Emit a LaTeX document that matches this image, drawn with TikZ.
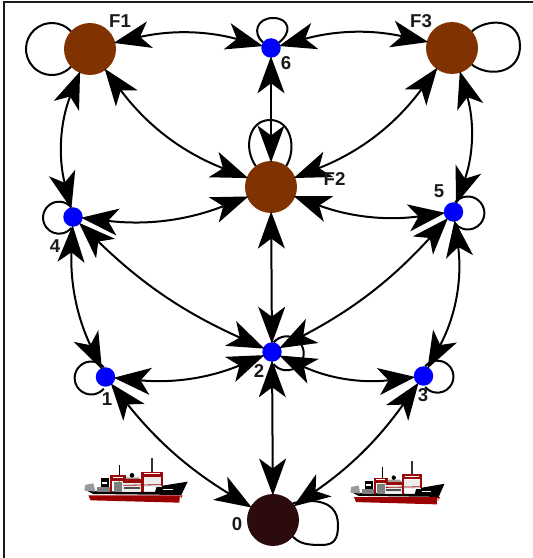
\documentclass[tikz,border=0pt]{standalone}
\usepackage{fontspec}
\setmainfont{Liberation Sans}
\usetikzlibrary{arrows.meta}
\definecolor{portbrown}{HTML}{803300}
\definecolor{depotdark}{HTML}{2B0B0B}
\definecolor{hullred}{HTML}{9A0000}
\definecolor{craneRed}{HTML}{9A0A0A}
\definecolor{labelink}{HTML}{1A1A1A}
\tikzset{
  bigport/.style={circle,fill=portbrown,minimum size=1.04cm,inner sep=0pt,outer sep=0pt,draw=none},
  depot/.style={circle,fill=depotdark,minimum size=1.04cm,inner sep=0pt,outer sep=0pt,draw=none},
  hub/.style={circle,fill=blue,minimum size=0.39cm,inner sep=0pt,outer sep=0pt,draw=none},
  lab/.style={text=labelink,font=\fontsize{10.6}{12}\selectfont\bfseries,inner sep=0pt},
  route/.style={line width=0.04cm,black,shorten >=-0.03cm,shorten <=-0.03cm,
    {Stealth[length=0.74cm,width=0.54cm,inset=0.2cm]}-{Stealth[length=0.74cm,width=0.54cm,inset=0.2cm]}},
  selfloop/.style={line width=0.04cm,black},
  frameline/.style={line width=0.04cm,labelink}
}
% Small cargo vessel, drawn in a local grid of 1/3 unit steps
\newcommand{\vessel}{%
  \fill[hullred] (85,166) -- (92,181) -- (358,188) -- (368,166) -- cycle;
  \fill[black] (72,148) -- (105,153) -- (285,156) -- (290,140) -- (345,131) -- (383,125)
     -- (364,165) -- (100,162) -- cycle;
  \fill[gray!80] (75,135) -- (100,130) -- (106,155) -- (75,152) -- cycle;
  \fill[gray] (110,140) rectangle (152,156);
  \fill[black] (122,115) rectangle (146,142);
  \fill[white] (126,125) rectangle (142,133);
  \fill[gray] (162,125) rectangle (186,156);
  \fill[gray!15] (186,122) rectangle (246,156);
  \fill[gray!75] (200,112) -- (235,112) -- (250,125) -- (186,125) -- cycle;
  \fill[black] (216,106) circle (7);
  \fill[gray!15] (250,112) rectangle (305,140);
  \fill[black!70] (192,142) rectangle (240,146);
  \fill[green!70!black] (178,127) circle (3);
  \draw[line width=0.025cm,black] (178,75) -- (178,106);
  \draw[line width=0.045cm,black!80] (276,55) -- (276,97);
  \fill[craneRed] (151,106) rectangle (198,122);
  \fill[craneRed] (244,95) rectangle (310,110);
  \fill[craneRed] (150,106) rectangle (157,156);
  \fill[craneRed] (243,95) rectangle (251,156);
  \fill[craneRed] (302,95) rectangle (310,138);
  \fill[craneRed] (190,118) rectangle (250,129);
  \draw[craneRed,line width=0.016cm] (190,136) -- (305,134);
  \fill[white] (158,111) rectangle (188,114);
  \fill[white] (252,100) rectangle (300,103);
  \fill[white] (310,147) rectangle (338,150);
  \fill[white] (360,170) -- (364,170) -- (362,186) -- (358,186) -- cycle;
}
\begin{document}
\begin{tikzpicture}[x=0.02cm,y=0.02cm]
  \useasboundingbox (0,0) rectangle (533,558);

  % Open frame along the left and top edges
  \coordinate (frameA) at (4,0);
  \coordinate (frameB) at (4,556);
  \coordinate (frameC) at (533,556);
  \draw[frameline] (frameA) -- (frameB) -- (frameC);

  % Vertices
  \node[bigport] (f1) at (90,509) {};
  \node[bigport] (f2) at (271,371) {};
  \node[bigport] (f3) at (452,510) {};
  \node[hub] (n6) at (271,510) {};
  \node[hub] (n4) at (73,341) {};
  \node[hub] (n5) at (453.5,346) {};
  \node[hub] (n2) at (272,206) {};
  \node[hub] (n1) at (105.5,181) {};
  \node[hub] (n3) at (423.5,182) {};
  \node[depot] (n0) at (273,38) {};

  % Self-loops
  \draw[selfloop] (f1.137) arc[start angle=43,end angle=317,radius=26];
  \draw[selfloop] (f2.54) .. controls (297,410) and (291,438) .. (270,438)
                          .. controls (249,438) and (243,410) .. (f2.126);
  \draw[selfloop] (f3.40) .. controls (487,540) and (520,540) .. (520,512)
                          .. controls (520,485) and (490,480) .. (f3.-40);
  \draw[selfloop] (n6.35) .. controls (292,525) and (290,540) .. (273,540)
                          .. controls (257,540) and (252,525) .. (n6.145);
  \draw[selfloop] (n4.100) arc[start angle=40,end angle=320,radius=16];
  \draw[selfloop] (n1.100) arc[start angle=40,end angle=320,radius=16.5];
  \draw[selfloop] (n5.80) arc[start angle=140,end angle=-140,radius=16.5];
  \draw[selfloop] (n3.80) arc[start angle=140,end angle=-140,radius=16];
  \draw[selfloop] (n2.80) arc[start angle=140,end angle=-140,radius=17];
  \draw[selfloop] (n0.40) .. controls (305,58) and (338,62) .. (338,33)
                          .. controls (338,20) and (335,13) .. (322,13)
                          .. controls (308,13) and (300,14) .. (n0.-40);

  % Routes
  \draw[route] (f1) to[bend left=14] (n6);
  \draw[route] (n6) to[bend left=14] (f3);
  \draw[route] (f1) to[bend right=18] (n4);
  \draw[route] (f3) to[bend left=18] (n5);
  \draw[route] (f1) to[bend right=16] (f2);
  \draw[route] (f3) to[bend left=16] (f2);
  \draw[route] (n6) -- (f2);
  \draw[route] (f2) -- (n2);
  \draw[route] (n2) -- (n0);
  \draw[route] (n4) to[bend right=14] (f2);
  \draw[route] (n5) to[bend left=14] (f2);
  \draw[route] (n4) to[bend right=10] (n2);
  \draw[route] (n5) to[bend left=10] (n2);
  \draw[route] (n4) to[bend right=14] (n1);
  \draw[route] (n5) to[bend left=18] (n3);
  \draw[route] (n1) to[bend right=14] (n2);
  \draw[route] (n3) to[bend left=16] (n2);
  \draw[route] (n1) to[bend right=10] (n0);
  \draw[route] (n3) to[bend left=10] (n0);

  % Labels
  \node[lab] (lf1) at (120,536.5) {F1};
  \node[lab] (lf2) at (334.5,378.5) {F2};
  \node[lab] (lf3) at (421,536.5) {F3};
  \node[lab] (l6) at (286,495) {6};
  \node[lab] (l5) at (439,367) {5};
  \node[lab] (l4) at (55,312) {4};
  \node[lab] (l1) at (107,159) {1};
  \node[lab] (l3) at (423,163) {3};
  \node[lab] (l2) at (259,187) {2};
  \node[lab] (l0) at (237,34) {0};

  % Vessels
  \begin{scope}[shift={(60,118)},x=0.006667cm,y=-0.006667cm]
    \vessel
  \end{scope}
  \begin{scope}[shift={(328.2,115)},x=0.00607cm,y=-0.00653cm]
    \vessel
  \end{scope}
\end{tikzpicture}
\end{document}
